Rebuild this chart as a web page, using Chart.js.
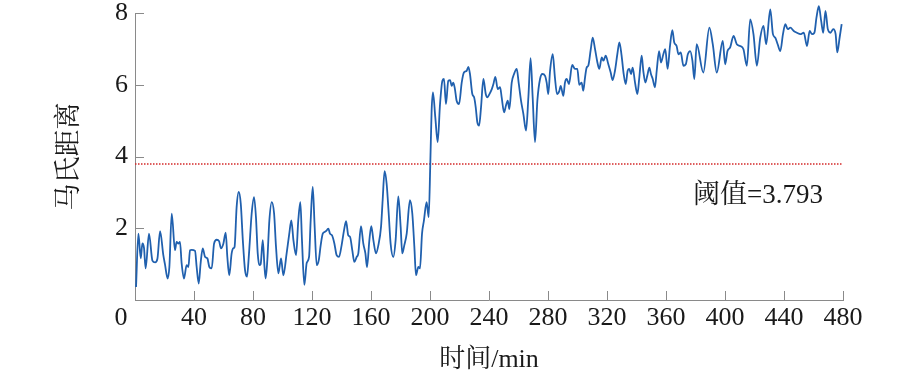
<!DOCTYPE html>
<html>
<head>
<meta charset="utf-8">
<script src="https://cdn.jsdelivr.net/npm/chart.js@4/dist/chart.umd.min.js"></script>
<style>
html,body{margin:0;padding:0;background:#fff;}
canvas{display:block;}
</style>
</head>
<body>
<canvas id="c" width="922" height="378"></canvas>
<script>
// ---- data ----
const minutes = [
0.7,2.3,3.9,5.0,6.1,7.2,9.5,11.8,13.6,15.2,17.0,19.2,20.3,22.1,23.3,24.9,27.1,28.2,29.4,30.5,
31.6,33.2,35.0,36.2,37.3,38.4,40.7,41.8,43.2,44.5,45.9,47.5,49.1,50.4,52.0,53.6,55.4,57.0,58.3,59.9,
61.5,62.6,63.9,65.5,66.6,67.5,68.9,70.3,71.7,73.1,74.6,75.9,77.3,79.1,80.7,82.0,83.2,84.3,85.2,86.6,
87.8,88.6,89.7,91.1,92.7,94.3,95.6,97.2,99.0,100.6,102.8,104.6,106.0,107.4,109.2,110.7,112.1,113.2,114.8,116.4,
118.0,119.1,120.5,121.8,123.2,124.6,125.9,127.3,128.8,130.0,131.1,132.2,133.6,135.2,136.7,138.3,140.1,141.7,143.1,144.6,
145.8,147.3,148.7,150.3,151.4,153.2,154.8,156.2,157.3,158.9,160.2,161.6,163.4,165.0,166.8,167.9,169.2,170.6,172.0,173.3,
175.1,176.7,178.5,180.1,181.2,182.6,184.2,186.4,188.0,189.4,190.5,192.1,193.2,194.6,195.9,197.7,199.1,200.2,201.1,202.0,
203.6,205.2,206.8,208.4,209.5,210.8,212.4,213.6,214.7,215.8,216.9,218.0,219.7,221.5,223.0,224.9,226.0,227.1,228.7,229.9,
231.0,232.1,233.3,234.6,236.2,237.8,238.9,240.3,241.9,243.0,244.3,245.9,247.5,248.6,250.2,251.5,252.7,253.8,255.4,257.0,
258.8,260.1,261.7,263.3,265.1,266.7,268.2,269.6,271.2,272.8,274.6,276.2,278.0,279.1,280.2,281.4,283.2,284.7,286.1,287.7,
288.6,290.4,291.5,292.7,294.2,296.4,298.3,299.9,301.2,302.8,303.9,305.1,306.2,307.3,309.0,310.3,311.9,313.5,314.8,316.4,
317.6,319.1,320.9,322.5,323.8,325.4,327.0,328.4,329.9,331.3,332.7,334.0,335.1,336.3,337.4,339.0,340.6,341.9,343.5,344.6,
346.0,347.3,348.7,349.8,351.0,352.5,353.7,355.3,356.6,358.2,359.5,361.1,362.7,364.3,365.6,367.2,368.4,370.0,371.8,373.4,
374.8,376.4,377.9,379.2,380.8,385.3,389.4,391.7,394.4,398.5,400.1,401.7,403.5,405.8,408.0,410.3,412.5,414.8,417.1,419.3,
421.6,423.9,426.1,427.9,430.7,432.5,434.1,435.7,437.5,439.3,440.9,442.5,444.3,446.6,448.8,451.1,453.4,455.6,457.4,459.0,
460.6,462.0,463.6,465.2,466.6,468.1,469.7,471.5,473.4,475.0,476.1,477.7,479.1
];
const distance = [
0.36,1.85,1.16,1.58,1.45,0.88,1.85,1.10,1.05,1.15,1.92,1.25,1.00,0.60,0.92,2.41,1.39,1.62,1.57,1.62,
1.03,0.60,0.97,0.92,1.39,1.40,1.37,0.92,0.46,1.03,1.44,1.20,1.16,0.92,0.88,1.57,1.68,1.64,1.44,1.57,
1.88,1.20,0.69,1.29,1.44,1.48,2.59,3.01,2.69,1.67,0.83,0.65,1.30,2.41,2.87,2.31,1.30,0.97,1.00,1.67,
0.92,0.60,1.10,2.22,2.73,2.41,1.48,0.74,1.16,0.69,1.30,1.85,2.22,1.67,1.25,2.22,2.73,1.67,0.42,1.03,
1.20,2.22,3.15,2.04,0.97,1.11,1.53,1.85,1.90,1.94,1.99,1.85,1.80,1.57,1.25,1.20,1.53,1.94,2.20,1.80,
1.76,1.39,1.06,1.20,1.30,2.06,1.57,1.30,0.92,1.67,2.06,1.67,1.30,1.53,2.04,2.78,3.59,3.24,2.41,1.57,
1.20,1.67,2.89,2.04,1.30,1.53,1.85,2.78,2.41,1.48,0.69,0.92,0.88,1.85,2.22,2.73,2.31,3.80,5.28,5.79,
5.09,4.40,5.46,6.11,6.16,5.46,6.11,6.13,5.97,6.06,5.88,5.56,5.46,6.06,6.34,6.39,6.50,6.30,5.74,5.65,
5.37,4.95,4.86,5.37,6.16,5.74,5.65,5.74,5.88,6.02,6.22,5.88,5.93,5.65,5.23,5.42,5.56,5.32,6.06,6.30,
6.44,6.06,5.56,5.19,4.72,5.65,6.74,5.65,4.40,5.56,6.16,6.30,6.25,6.06,5.74,6.39,6.85,6.20,5.74,5.83,
5.97,5.69,6.06,6.16,6.02,6.55,6.44,6.44,6.00,6.06,5.83,6.20,6.48,6.53,6.99,7.31,6.99,6.62,6.44,6.76,
6.67,6.81,6.57,6.34,6.13,6.39,6.85,7.18,6.81,6.30,6.02,6.39,6.44,6.30,6.48,6.06,5.74,6.20,6.81,6.39,
6.06,6.25,6.48,6.30,6.16,5.93,6.39,6.94,6.62,6.85,6.99,6.44,7.08,7.52,7.18,7.08,6.85,6.90,6.53,6.57,
6.85,6.94,6.67,6.16,7.13,6.34,7.59,7.13,6.34,7.22,6.57,6.94,7.04,7.36,7.13,7.08,6.99,6.53,7.82,7.41,
6.53,7.31,7.64,7.13,8.10,7.41,7.31,7.13,6.94,7.41,7.69,7.55,7.59,7.50,7.45,7.41,7.45,7.08,7.50,7.41,
7.45,7.87,8.19,7.78,7.45,8.06,7.55,7.45,7.55,7.41,6.90,7.31,7.69
];
const thresholdValue = 3.793;
const thresholdLabel = '阈值=3.793';
const xTickValues = [0,40,80,120,160,200,240,280,320,360,400,440,480];
const yTickValues = [2,4,6,8];
const xTitle = '时间/min';
const yTitle = '马氏距离';

// ---- drawing ----
const serif = '"Liberation Serif", "Noto Serif CJK SC", "Noto Sans CJK SC", serif';
const tickFont = {family: serif, size: 26};
const axisColor = '#8a8a8a';

const extras = {
  id: 'extras',
  afterDraw(chart) {
    const ctx = chart.ctx, xs = chart.scales.x, ys = chart.scales.y;
    const a = chart.chartArea;
    ctx.save();
    // inward tick marks
    ctx.strokeStyle = axisColor; ctx.lineWidth = 1;
    ctx.beginPath();
    xTickValues.forEach(v => {
      const p = Math.round(xs.getPixelForValue(v)) + 0.5;
      ctx.moveTo(p, a.bottom); ctx.lineTo(p, a.bottom - 9);
    });
    yTickValues.forEach(v => {
      const p = Math.round(ys.getPixelForValue(v)) + 0.5;
      ctx.moveTo(a.left, p); ctx.lineTo(a.left + 9, p);
    });
    ctx.stroke();
    // "0" label on x axis, shifted left of the origin
    ctx.fillStyle = '#1a1a1a';
    ctx.font = '26px ' + serif;
    ctx.textAlign = 'center'; ctx.textBaseline = 'middle';
    ctx.fillText('0', xs.getPixelForValue(0) - 14, xs.top + 3 + 26 * 1.2 / 2);
    // threshold annotation
    ctx.font = '27px ' + serif;
    ctx.textAlign = 'left';
    ctx.fillText(thresholdLabel, xs.getPixelForValue(378.3), ys.getPixelForValue(2.9));
    ctx.restore();
  }
};

new Chart(document.getElementById('c'), {
  type: 'line',
  data: {
    datasets: [
      {
        data: minutes.map((m, i) => ({x: m, y: distance[i]})),
        borderColor: '#2060ae',
        borderWidth: 1.8,
        pointRadius: 0,
        cubicInterpolationMode: 'monotone',
        fill: false,
        clip: false
      },
      {
        data: [{x: 0, y: thresholdValue}, {x: 480, y: thresholdValue}],
        borderColor: '#d42a2a',
        borderWidth: 1.5,
        borderDash: [1.5, 1.5],
        pointRadius: 0,
        fill: false
      }
    ]
  },
  options: {
    responsive: false,
    animation: false,
    devicePixelRatio: 1,
    layout: {padding: {top: 13, right: 79, left: 0, bottom: 0}},
    plugins: {legend: {display: false}, tooltip: {enabled: false}},
    scales: {
      x: {
        type: 'linear', min: 0, max: 480,
        afterBuildTicks: s => { s.ticks = xTickValues.map(v => ({value: v})); },
        afterFit: s => { s.height = 78; s.paddingLeft = 0; s.paddingRight = 0; },
        ticks: {
          callback: v => (v === 0 ? '' : String(v)),
          font: tickFont, color: '#1a1a1a', maxRotation: 0, autoSkip: false, padding: 3
        },
        grid: {drawOnChartArea: false, drawTicks: false},
        border: {color: axisColor, width: 1},
        title: {display: true, text: xTitle, font: {family: serif, size: 26}, color: '#1a1a1a', padding: {top: 0, bottom: 2}}
      },
      y: {
        min: 0, max: 8,
        afterBuildTicks: s => { s.ticks = [0].concat(yTickValues).map(v => ({value: v})); },
        afterFit: s => { s.width = 135; s.paddingTop = 0; s.paddingBottom = 0; },
        ticks: {
          callback: v => (v === 0 ? '' : String(v)),
          font: tickFont, color: '#1a1a1a', padding: 7
        },
        grid: {drawOnChartArea: false, drawTicks: false},
        border: {color: axisColor, width: 1},
        title: {display: true, text: yTitle, font: {family: serif, size: 27}, color: '#1a1a1a', padding: {top: 54, bottom: 0}}
      }
    }
  },
  plugins: [extras]
});
</script>
</body>
</html>
